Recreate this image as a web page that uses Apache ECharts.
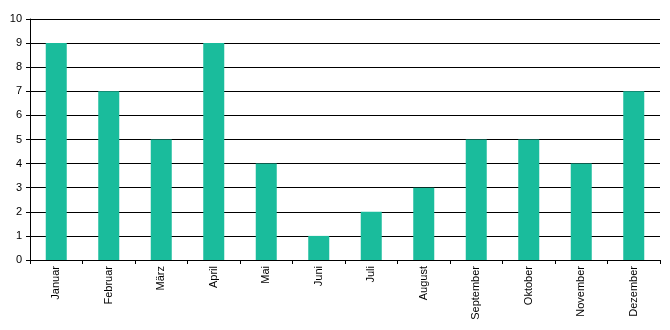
<!DOCTYPE html>
<html><head><meta charset="utf-8">
<script src="https://cdn.jsdelivr.net/npm/echarts@6/dist/echarts.min.js"></script>
<style>html,body{margin:0;padding:0;background:#fff}#c{width:670px;height:330px}</style>
</head><body><div id="c"></div>
<script>
const categories = ["Januar","Februar","März","April","Mai","Juni","Juli","August","September","Oktober","November","Dezember"];
const values = [9,7,5,9,4,1,2,3,5,5,4,7];
const yTicks = [0,1,2,3,4,5,6,7,8,9,10];

const chart = echarts.init(document.getElementById('c'), null, {renderer:'canvas'});
chart.setOption({
  animation:false,
  grid:{left:30,right:10,top:19,bottom:70,containLabel:false},
  xAxis:{type:'category',data:categories,
    axisLine:{lineStyle:{color:'#000',width:1}},
    axisTick:{show:true,length:4,lineStyle:{color:'#000'},alignWithLabel:false},
    axisLabel:{rotate:90,color:'#000',fontFamily:'Liberation Sans, Arial',fontSize:11,margin:6,interval:0},
    splitLine:{show:false}},
  yAxis:{type:'value',min:yTicks[0],max:yTicks[yTicks.length-1],interval:1,
    axisLine:{show:true,lineStyle:{color:'#000',width:1}},
    axisTick:{show:true,length:4,inside:false,lineStyle:{color:'#000'}},
    axisLabel:{color:'#000',fontFamily:'Liberation Sans, Arial',fontSize:11,margin:8},
    splitLine:{show:true,lineStyle:{color:'#000',width:1}}},
  series:[{type:'bar',data:values,barWidth:21,itemStyle:{color:'#1abc9c'}}]
});
</script></body></html>
